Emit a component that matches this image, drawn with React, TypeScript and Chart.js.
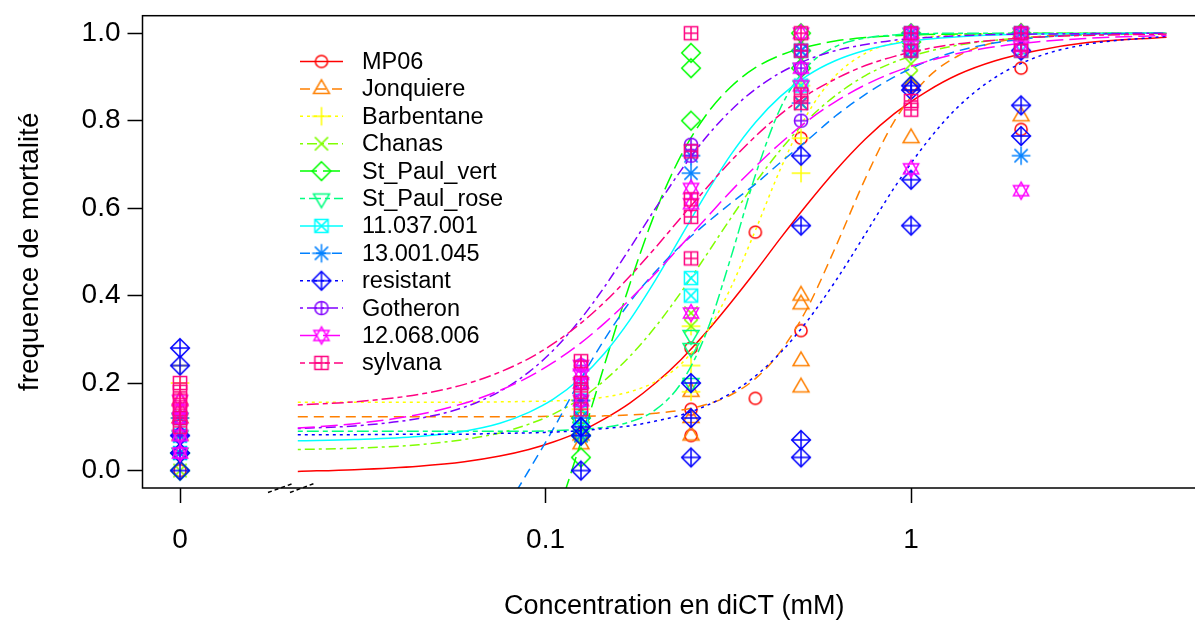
import React, { useEffect, useRef } from 'react';
import { Chart, registerables } from 'chart.js';

Chart.register(...registerables);

const FONT_FAMILY = '"Liberation Sans", Arial, Helvetica, sans-serif';

// ---- series meta ----
const SERIES_NAMES = ['MP06', 'Jonquiere', 'Barbentane', 'Chanas', 'St_Paul_vert', 'St_Paul_rose', '11.037.001', '13.001.045', 'resistant', 'Gotheron', '12.068.006', 'sylvana'];
const SERIES_COLORS = ['#FF0000', '#FF8000', '#FFFF00', '#80FF00', '#00FF00', '#00FF80', '#00FFFF', '#0080FF', '#0000FF', '#8000FF', '#FF00FF', '#FF0080'];
const SERIES_PCH = [1, 2, 3, 4, 5, 6, 7, 8, 9, 10, 11, 12];
const SERIES_LTY = [1, 2, 3, 4, 5, 6, 1, 2, 3, 4, 5, 6];

// ---- axes ----
const X_MIN = 0.007895;
const X_MAX = 6.41;
const Y_MIN = -0.04;
const Y_MAX = 1.04;
const X_TICKS = [0.01, 0.1, 1];
const X_TICK_LABELS = ['0', '0.1', '1'];
const Y_TICKS = [0, 0.2, 0.4, 0.6, 0.8, 1.0];
const Y_TICK_LABELS = ['0.0', '0.2', '0.4', '0.6', '0.8', '1.0'];
const ZERO_DOSE_AT = 0.01; // where dose 0 is shown on the broken log axis

// ---- fitted curves ----
const CURVE_X = [0.021, 0.03, 0.045, 0.06, 0.075, 0.09, 0.105, 0.125, 0.145, 0.17, 0.2, 0.235, 0.275, 0.32, 0.375, 0.44, 0.52, 0.62, 0.75, 0.9, 1.1, 1.35, 1.7, 2.2, 3, 5];
const CURVE_MP06 = [-0.002, 0.002, 0.010, 0.020, 0.033, 0.048, 0.065, 0.090, 0.118, 0.154, 0.200, 0.254, 0.316, 0.382, 0.455, 0.532, 0.609, 0.685, 0.758, 0.816, 0.866, 0.906, 0.937, 0.960, 0.978, 0.991];
const CURVE_JONQUIERE = [0.123, 0.123, 0.123, 0.123, 0.123, 0.123, 0.124, 0.124, 0.125, 0.127, 0.131, 0.138, 0.151, 0.172, 0.210, 0.273, 0.371, 0.509, 0.668, 0.799, 0.895, 0.949, 0.979, 0.992, 0.998, 1.0];
const CURVE_BARBENTANE = [0.156, 0.156, 0.156, 0.156, 0.157, 0.158, 0.159, 0.162, 0.168, 0.180, 0.203, 0.244, 0.314, 0.415, 0.549, 0.691, 0.815, 0.902, 0.954, 0.978, 0.991, 0.996, 0.999, 1.0, 1.0, 1.0];
const CURVE_CHANAS = [0.048, 0.051, 0.059, 0.071, 0.086, 0.106, 0.129, 0.165, 0.206, 0.261, 0.329, 0.408, 0.492, 0.575, 0.658, 0.734, 0.801, 0.857, 0.903, 0.934, 0.957, 0.973, 0.984, 0.991, 0.996, 0.999];
const CURVE_ST_PAUL_VERT = [-0.595, -0.584, -0.548, -0.483, -0.387, -0.264, -0.126, 0.066, 0.242, 0.426, 0.592, 0.721, 0.813, 0.876, 0.921, 0.950, 0.969, 0.982, 0.990, 0.994, 0.997, 0.998, 0.999, 1.0, 1.0, 1.0];
const CURVE_ST_PAUL_ROSE = [0.090, 0.090, 0.090, 0.090, 0.090, 0.090, 0.091, 0.094, 0.099, 0.111, 0.139, 0.200, 0.314, 0.482, 0.675, 0.830, 0.923, 0.969, 0.989, 0.996, 0.999, 1.0, 1.0, 1.0, 1.0, 1.0];
const CURVE_11037001 = [0.068, 0.071, 0.078, 0.090, 0.108, 0.133, 0.163, 0.212, 0.268, 0.344, 0.436, 0.536, 0.633, 0.720, 0.796, 0.856, 0.903, 0.937, 0.961, 0.976, 0.986, 0.992, 0.996, 0.998, 0.999, 1.0];
const CURVE_13001045 = [-0.55, -0.5, -0.38, -0.25, -0.11, 0.0, 0.095, 0.21, 0.30, 0.385, 0.455, 0.515, 0.565, 0.61, 0.655, 0.705, 0.755, 0.81, 0.86, 0.90, 0.935, 0.96, 0.978, 0.99, 0.997, 1.0];
const CURVE_RESISTANT = [0.082, 0.082, 0.083, 0.083, 0.085, 0.086, 0.088, 0.091, 0.096, 0.102, 0.113, 0.127, 0.148, 0.176, 0.216, 0.270, 0.342, 0.432, 0.541, 0.647, 0.749, 0.833, 0.899, 0.945, 0.974, 0.993];
const CURVE_GOTHERON = [0.096, 0.102, 0.119, 0.145, 0.181, 0.225, 0.275, 0.347, 0.420, 0.508, 0.600, 0.687, 0.762, 0.822, 0.872, 0.910, 0.939, 0.960, 0.974, 0.984, 0.990, 0.994, 0.997, 0.998, 0.999, 1.0];
const CURVE_12068006 = [0.097, 0.107, 0.128, 0.154, 0.183, 0.214, 0.247, 0.292, 0.337, 0.391, 0.451, 0.515, 0.577, 0.637, 0.695, 0.749, 0.799, 0.843, 0.882, 0.911, 0.935, 0.954, 0.969, 0.980, 0.988, 0.995];
const CURVE_SYLVANA = [0.150, 0.157, 0.174, 0.197, 0.225, 0.256, 0.290, 0.337, 0.385, 0.444, 0.510, 0.579, 0.645, 0.706, 0.764, 0.815, 0.859, 0.895, 0.926, 0.947, 0.964, 0.976, 0.984, 0.991, 0.995, 0.998];

// ---- observations: [dose (mM), mortality frequency] ----
const OBS_MP06 = [[0, 0], [0, 0.04], [0, 0.08], [0.125, 0.12], [0.125, 0.08], [0.25, 0.28], [0.25, 0.14], [0.25, 0.08], [0.375, 0.545], [0.375, 0.165], [0.5, 0.76], [0.5, 0.32], [1, 0.96], [1, 0.88], [2, 0.92], [2, 0.78]];
const OBS_JONQUIERE = [[0, 0.08], [0, 0.12], [0, 0.16], [0.125, 0.12], [0.125, 0.08], [0.125, 0.06], [0.25, 0.18], [0.25, 0.12], [0.25, 0.08], [0.5, 0.4], [0.5, 0.38], [0.5, 0.25], [0.5, 0.19], [1, 0.88], [1, 0.76], [2, 0.81], [2, 1.0]];
const OBS_BARBENTANE = [[0, 0.24], [0, 0.2], [0, 0.12], [0.125, 0.16], [0.125, 0.14], [0.25, 0.33], [0.25, 0.24], [0.25, 0.18], [0.5, 0.88], [0.5, 0.76], [0.5, 0.68], [1, 1.0], [1, 0.96], [2, 1.0]];
const OBS_CHANAS = [[0, 0], [0, 0.04], [0, 0.08], [0.125, 0.16], [0.125, 0.12], [0.125, 0.08], [0.25, 0.36], [0.25, 0.33], [0.5, 0.88], [0.5, 0.84], [1, 0.93], [1, 0.9], [2, 1.0]];
const OBS_ST_PAUL_VERT = [[0, 0], [0, 0.04], [0.125, 0.12], [0.125, 0.08], [0.125, 0.03], [0.25, 0.955], [0.25, 0.92], [0.25, 0.8], [0.5, 1.0], [0.5, 0.96], [0.5, 0.92], [1, 1.0], [1, 0.98], [2, 1.0]];
const OBS_ST_PAUL_ROSE = [[0, 0.04], [0, 0.08], [0, 0.12], [0.125, 0.1], [0.125, 0.08], [0.25, 0.31], [0.25, 0.28], [0.25, 0.2], [0.5, 0.92], [0.5, 0.88], [1, 1.0], [1, 0.96], [2, 1.0]];
const OBS_11037001 = [[0, 0.04], [0, 0.08], [0, 0.12], [0.125, 0.2], [0.125, 0.16], [0.125, 0.12], [0.25, 0.44], [0.25, 0.4], [0.5, 0.96], [0.5, 0.88], [1, 1.0], [1, 0.96], [2, 1.0], [2, 0.96]];
const OBS_13001045 = [[0, 0.04], [0, 0.08], [0, 0.12], [0.125, 0.16], [0.125, 0.12], [0.125, 0.08], [0.25, 0.68], [0.25, 0.72], [0.5, 0.96], [0.5, 0.84], [1, 0.96], [1, 1.0], [2, 0.72], [2, 1.0]];
const OBS_RESISTANT = [[0, 0.28], [0, 0.24], [0, 0.08], [0, 0.04], [0, 0], [0.125, 0.1], [0.125, 0.08], [0.125, 0], [0.25, 0.2], [0.25, 0.12], [0.25, 0.03], [0.5, 0.72], [0.5, 0.56], [0.5, 0.07], [0.5, 0.03], [1, 0.88], [1, 0.87], [1, 0.665], [1, 0.56], [2, 0.96], [2, 0.835], [2, 0.765]];
const OBS_GOTHERON = [[0, 0.04], [0, 0.08], [0, 0.12], [0.125, 0.24], [0.125, 0.2], [0.125, 0.16], [0.25, 0.745], [0.25, 0.72], [0.5, 0.96], [0.5, 0.92], [0.5, 0.8], [1, 1.0], [1, 0.96], [2, 1.0], [2, 0.96]];
const OBS_12068006 = [[0, 0.16], [0, 0.14], [0, 0.12], [0, 0.08], [0, 0.04], [0.125, 0.24], [0.125, 0.22], [0.125, 0.2], [0.125, 0.16], [0.25, 0.645], [0.25, 0.61], [0.25, 0.36], [0.5, 1.0], [0.5, 0.92], [0.5, 0.88], [1, 1.0], [1, 0.97], [1, 0.69], [2, 1.0], [2, 0.97], [2, 0.64]];
const OBS_SYLVANA = [[0, 0.2], [0, 0.18], [0, 0.16], [0, 0.14], [0, 0.12], [0, 0.1], [0.125, 0.25], [0.125, 0.2], [0.125, 0.18], [0.125, 0.14], [0.25, 1.0], [0.25, 0.73], [0.25, 0.62], [0.25, 0.58], [0.25, 0.485], [0.5, 1.0], [0.5, 0.96], [0.5, 0.86], [0.5, 0.84], [1, 1.0], [1, 0.96], [1, 0.845], [1, 0.825], [2, 1.0], [2, 0.96]];

const SERIES_CURVES = [CURVE_MP06, CURVE_JONQUIERE, CURVE_BARBENTANE, CURVE_CHANAS, CURVE_ST_PAUL_VERT, CURVE_ST_PAUL_ROSE, CURVE_11037001, CURVE_13001045, CURVE_RESISTANT, CURVE_GOTHERON, CURVE_12068006, CURVE_SYLVANA];
const SERIES_OBS = [OBS_MP06, OBS_JONQUIERE, OBS_BARBENTANE, OBS_CHANAS, OBS_ST_PAUL_VERT, OBS_ST_PAUL_ROSE, OBS_11037001, OBS_13001045, OBS_RESISTANT, OBS_GOTHERON, OBS_12068006, OBS_SYLVANA];

// ---- styles ----
const LTY_DASH: Record<number, number[]> = { 1: [], 2: [10, 6], 3: [3, 4], 4: [3, 4, 10, 4], 5: [17, 6], 6: [5, 4, 12, 4] };
const R0 = 6.6;
const LINE_W = 1.5;

function makeMarker(pch: number, color: string): HTMLCanvasElement {
  const S = 32;
  const c = document.createElement('canvas');
  c.width = S;
  c.height = S;
  const g = c.getContext('2d') as CanvasRenderingContext2D;
  g.strokeStyle = color;
  g.lineWidth = LINE_W;
  const cx = S / 2;
  const cy = S / 2;
  const seg = (x1: number, y1: number, x2: number, y2: number) => {
    g.beginPath();
    g.moveTo(cx + x1, cy + y1);
    g.lineTo(cx + x2, cy + y2);
    g.stroke();
  };
  const poly = (pts: number[][]) => {
    g.beginPath();
    pts.forEach(([x, y], k) => (k === 0 ? g.moveTo(cx + x, cy + y) : g.lineTo(cx + x, cy + y)));
    g.closePath();
    g.stroke();
  };
  const circle = (r: number) => {
    g.beginPath();
    g.arc(cx, cy, r, 0, Math.PI * 2);
    g.stroke();
  };
  const plus = (h: number) => {
    seg(-h, 0, h, 0);
    seg(0, -h, 0, h);
  };
  const cross = (h: number) => {
    seg(-h, -h, h, h);
    seg(-h, h, h, -h);
  };
  const sq = (h: number) => poly([[-h, -h], [h, -h], [h, h], [-h, h]]);
  const s2 = Math.SQRT2 * R0;
  const tr = 1.5551 * R0;
  const ty = 0.7776 * R0;
  const tx = 1.3468 * R0;
  switch (pch) {
    case 1: circle(R0 * 0.92); break;
    case 2: poly([[0, -tr * 0.9], [tx * 0.9, ty * 0.9], [-tx * 0.9, ty * 0.9]]); break;
    case 3: plus(s2); break;
    case 4: cross(R0); break;
    case 5: poly([[0, -s2], [s2, 0], [0, s2], [-s2, 0]]); break;
    case 6: poly([[0, tr * 0.9], [tx * 0.9, -ty * 0.9], [-tx * 0.9, -ty * 0.9]]); break;
    case 7: sq(R0); cross(R0); break;
    case 8: cross(R0); plus(s2); break;
    case 9: poly([[0, -s2], [s2, 0], [0, s2], [-s2, 0]]); plus(s2); break;
    case 10: circle(R0); plus(R0); break;
    case 11: {
      const a = 1.3 * R0;
      const b = 0.75 * R0;
      const w = 1.15 * R0;
      poly([[0, -a], [w, b], [-w, b]]);
      poly([[0, a], [w, -b], [-w, -b]]);
      break;
    }
    case 12: sq(R0); plus(R0); break;
    default: circle(R0);
  }
  return c;
}

export default function App() {
  const canvasRef = useRef<HTMLCanvasElement | null>(null);

  useEffect(() => {
    const canvas = canvasRef.current;
    if (!canvas) return;
    const markers = SERIES_PCH.map((p, i) => makeMarker(p, SERIES_COLORS[i]));

    const datasets: any[] = [];
    SERIES_NAMES.forEach((name, i) => {
      datasets.push({
        type: 'line',
        label: name + ' (fit)',
        data: CURVE_X.map((x, k) => ({ x, y: SERIES_CURVES[i][k] })),
        borderColor: SERIES_COLORS[i],
        borderWidth: LINE_W,
        borderDash: LTY_DASH[SERIES_LTY[i]],
        pointRadius: 0,
        pointHoverRadius: 0,
        fill: false,
        cubicInterpolationMode: 'monotone',
        order: (12 - i) * 2,
      });
      datasets.push({
        type: 'line',
        label: name,
        data: SERIES_OBS[i].map(([d, v]) => ({ x: d === 0 ? ZERO_DOSE_AT : d, y: v })),
        showLine: false,
        pointStyle: markers[i],
        pointRadius: 6,
        pointHoverRadius: 6,
        borderColor: SERIES_COLORS[i],
        backgroundColor: SERIES_COLORS[i],
        order: (12 - i) * 2 - 1,
      });
    });

    const decorPlugin = {
      id: 'rDecor',
      afterDraw(chart: any) {
        const { ctx, chartArea } = chart;
        const { left, top, right, bottom } = chartArea;
        ctx.save();
        // plot box
        ctx.strokeStyle = '#000';
        ctx.lineWidth = LINE_W;
        ctx.setLineDash([]);
        ctx.strokeRect(left, top, right - left, bottom - top);
        // axis break marks
        ctx.setLineDash([4, 3]);
        ctx.beginPath();
        ctx.moveTo(268, bottom + 4.5);
        ctx.lineTo(293, bottom - 4.5);
        ctx.moveTo(290, bottom + 4.5);
        ctx.lineTo(314, bottom - 4.5);
        ctx.stroke();
        // legend
        const legTop = 61.5;
        const legStep = 27.4;
        ctx.font = `23.5px ${FONT_FAMILY}`;
        ctx.textBaseline = 'middle';
        ctx.textAlign = 'left';
        SERIES_NAMES.forEach((name, i) => {
          const y = legTop + i * legStep;
          ctx.strokeStyle = SERIES_COLORS[i];
          ctx.lineWidth = LINE_W;
          ctx.setLineDash(LTY_DASH[SERIES_LTY[i]]);
          ctx.beginPath();
          ctx.moveTo(300, y);
          ctx.lineTo(343, y);
          ctx.stroke();
          ctx.setLineDash([]);
          const m = markers[i];
          ctx.drawImage(m, 321.5 - m.width / 2, y - m.height / 2);
          ctx.fillStyle = '#000';
          ctx.fillText(name, 362, y + 1);
        });
        ctx.restore();
      },
    };

    const chart = new Chart(canvas, {
      type: 'line',
      data: { datasets },
      options: {
        animation: false,
        responsive: false,
        devicePixelRatio: 1,
        events: [],
        layout: { autoPadding: false, padding: { top: 15.7, right: 9, left: 0, bottom: 0 } },
        plugins: { legend: { display: false }, tooltip: { enabled: false } },
        scales: {
          x: {
            type: 'logarithmic',
            min: X_MIN,
            max: X_MAX,
            afterBuildTicks: (axis: any) => {
              axis.ticks = X_TICKS.map((v) => ({ value: v }));
            },
            afterFit: (axis: any) => {
              axis.height = 135;
              axis.paddingLeft = 0;
              axis.paddingRight = 0;
            },
            ticks: {
              autoSkip: false,
              maxRotation: 0,
              color: '#000',
              padding: 23,
              font: { family: FONT_FAMILY, size: 28, lineHeight: 1 },
              callback: (_v: any, i: number) => X_TICK_LABELS[i],
            },
            grid: { drawOnChartArea: false, drawTicks: true, tickLength: 15, tickColor: '#000', tickWidth: LINE_W },
            border: { display: false },
            title: {
              display: true,
              text: 'Concentration en diCT (mM)',
              color: '#000',
              font: { family: FONT_FAMILY, size: 27, lineHeight: 1.2 },
              padding: { top: 0, bottom: 0 },
            },
          },
          y: {
            type: 'linear',
            min: Y_MIN,
            max: Y_MAX,
            afterBuildTicks: (axis: any) => {
              axis.ticks = Y_TICKS.map((v) => ({ value: v }));
            },
            afterFit: (axis: any) => {
              axis.width = 142.5;
              axis.paddingTop = 0;
              axis.paddingBottom = 0;
            },
            ticks: {
              autoSkip: false,
              color: '#000',
              padding: 7,
              font: { family: FONT_FAMILY, size: 28, lineHeight: 1 },
              callback: (_v: any, i: number) => Y_TICK_LABELS[i],
            },
            grid: { drawOnChartArea: false, drawTicks: true, tickLength: 15, tickColor: '#000', tickWidth: LINE_W },
            border: { display: false },
            title: {
              display: true,
              text: 'frequence de mortalité',
              color: '#000',
              font: { family: FONT_FAMILY, size: 28, lineHeight: 1.2 },
              padding: { top: 13, bottom: 0 },
            },
          },
        },
      } as any,
      plugins: [decorPlugin],
    });

    return () => {
      chart.destroy();
    };
  }, []);

  return (
    <div style={{ position: 'fixed', left: 0, top: 0, width: 1195, height: 623, overflow: 'hidden', background: '#fff' }}>
      <canvas ref={canvasRef} width={1215} height={623} style={{ display: 'block', width: 1215, height: 623 }} />
    </div>
  );
}
